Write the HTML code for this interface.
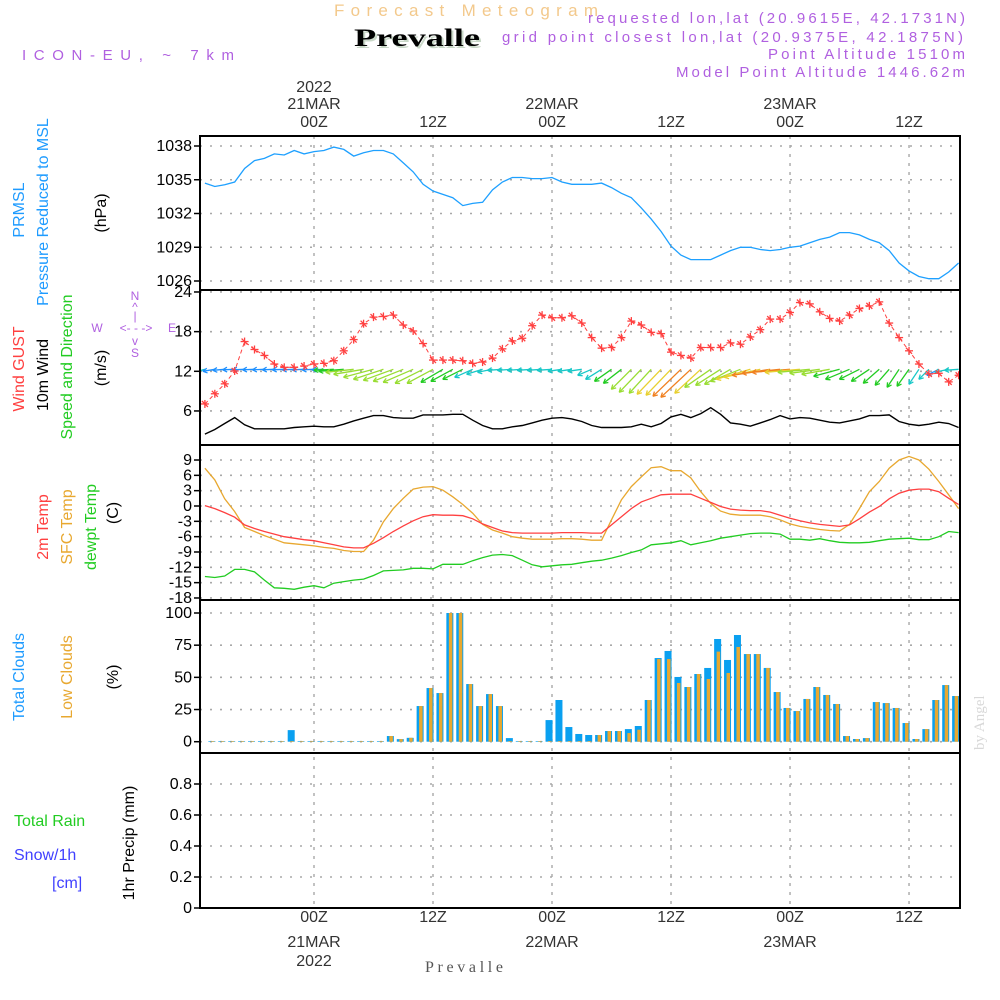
<!DOCTYPE html>
<html><head><meta charset="utf-8"><style>
html,body{margin:0;padding:0;background:#fff;}
svg{display:block;font-family:"Liberation Sans",sans-serif;}
</style></head><body>
<svg id="chart" width="1000" height="1000" viewBox="0 0 1000 1000" xmlns="http://www.w3.org/2000/svg">
<rect width="1000" height="1000" fill="#fff"/>
<g id="header">
<text x="334" y="16" font-size="17" fill="#f3c98c" textLength="264" lengthAdjust="spacing">Forecast Meteogram</text>
<text x="356" y="48" font-size="25" font-weight="bold" font-family="Liberation Serif, serif" fill="#c9d8c8" textLength="126" lengthAdjust="spacingAndGlyphs">Prevalle</text>
<text x="354" y="46" font-size="25" font-weight="bold" font-family="Liberation Serif, serif" fill="#000" textLength="126" lengthAdjust="spacingAndGlyphs">Prevalle</text>
<text x="22" y="60" font-size="15" fill="#b060e0" textLength="212" lengthAdjust="spacing">ICON-EU, ~ 7km</text>
<text x="588" y="23" font-size="15" fill="#b060e0" textLength="377" lengthAdjust="spacing">requested lon,lat (20.9615E, 42.1731N)</text>
<text x="502" y="42" font-size="15" fill="#b060e0" textLength="461" lengthAdjust="spacing">grid point closest lon,lat (20.9375E, 42.1875N)</text>
<text x="768" y="59" font-size="15" fill="#b060e0" textLength="197" lengthAdjust="spacing">Point Altitude 1510m</text>
<text x="676" y="77" font-size="15" fill="#b060e0" textLength="289" lengthAdjust="spacing">Model Point Altitude 1446.62m</text>
<text x="425" y="972" font-size="16" font-family="Liberation Serif, serif" fill="#555" textLength="78" lengthAdjust="spacing">Prevalle</text>
<text transform="translate(984,750) rotate(-90)" font-size="15" font-family="Liberation Serif, serif" fill="#d8d8d8">by Angel</text>
</g>
<g id="labels" font-size="16"></g>
<g id="grid"></g>
<g id="marks"></g>
<g id="frames"></g>
</svg>
<script>
// ---- data (hourly, starting 20 MAR 13Z = hour -11 relative to 21MAR 00Z) ----
const startHour = -11;
const pressure = [1034.7,1034.4,1034.55,1034.8,1036.0,1036.7,1036.9,1037.3,1037.2,1037.6,1037.3,1037.5,1037.6,1037.9,1037.7,1037.1,1037.4,1037.6,1037.6,1037.3,1036.5,1035.7,1034.6,1034.0,1033.7,1033.4,1032.7,1032.9,1033.0,1034.1,1034.8,1035.2,1035.2,1035.1,1035.1,1035.2,1034.8,1034.6,1034.6,1034.6,1034.7,1034.3,1033.8,1033.4,1032.5,1031.5,1030.4,1029.1,1028.3,1027.9,1027.9,1027.9,1028.3,1028.7,1029.0,1029.0,1028.8,1028.7,1028.8,1029.0,1029.1,1029.4,1029.7,1029.9,1030.3,1030.3,1030.1,1029.7,1029.4,1028.7,1027.6,1026.9,1026.4,1026.2,1026.2,1026.8,1027.6];
const gust = [7.06,8.6,10.1,12.05,16.5,15.3,14.4,13.1,12.6,12.6,12.8,13.1,13.2,13.6,15.1,16.8,19.2,20.2,20.3,20.5,19.0,18.1,16.2,13.7,13.7,13.7,13.6,13.2,13.4,14.0,15.4,16.6,17.0,18.9,20.5,20.1,20.1,20.4,19.3,17.1,15.5,15.6,17.1,19.6,19.0,17.9,17.7,14.9,14.4,14.0,15.6,15.6,15.6,16.3,16.1,17.2,18.3,19.9,19.9,20.9,22.4,22.2,21.0,20.0,19.6,20.5,21.5,21.9,22.5,19.3,17.1,15.1,13.1,11.6,11.7,10.4,11.4];
const windSpeed = [2.5,3.2,4.1,5.0,3.9,3.3,3.3,3.3,3.3,3.5,3.6,3.7,3.6,3.6,4.0,4.5,4.9,5.3,5.3,5.0,4.9,4.9,5.4,5.4,5.4,5.5,5.5,4.6,3.8,3.3,3.3,3.6,3.8,4.2,4.6,4.9,5.0,4.8,4.4,3.8,3.5,3.5,3.5,3.6,4.0,3.6,4.1,5.1,5.5,5.0,5.6,6.5,5.5,4.2,4.0,3.7,4.2,4.7,5.3,4.8,5.0,4.9,4.6,4.3,4.2,4.5,4.8,5.3,5.3,5.4,4.4,4.0,3.8,4.0,4.3,4.1,3.5];
// wind arrow components (arrow-space units, east +, north +)
const windU = [-2.8,-2.4,-2.4,-2.4,-2.4,-2.4,-2.4,-2.4,-2.4,-2.4,-2.4,-2.4,-2.4,-4.0,-5.0,-5.6,-6.0,-6.0,-6.0,-6.0,-6.0,-6.0,-5.6,-5.2,-4.4,-4.4,-4.0,-3.6,-3.2,-3.0,-3.0,-3.0,-3.0,-3.0,-3.0,-3.0,-2.8,-2.8,-2.8,-2.8,-3.2,-3.4,-3.6,-4.0,-4.4,-4.4,-4.8,-5.0,-5.6,-6.0,-5.2,-5.2,-5.0,-5.2,-6.0,-6.8,-7.2,-7.6,-7.6,-7.6,-7.0,-6.4,-6.0,-5.6,-5.2,-4.8,-4.0,-3.6,-3.2,-2.8,-2.4,-2.4,-2.0,-2.0,-2.4,-2.8,-2.8];
const windV = [-0.8,-0.4,-0.2,-0.1,-0.1,-0.1,-0.1,-0.1,-0.1,-0.1,-0.1,-0.1,-0.1,-0.2,-0.4,-0.6,-1.0,-1.6,-2.0,-2.2,-2.4,-2.6,-2.8,-2.8,-2.6,-2.4,-2.0,-1.6,-1.0,-0.6,-0.2,-0.2,-0.2,-0.2,-0.2,-0.2,-0.4,-0.4,-0.4,-1.2,-2.0,-2.4,-2.8,-4.0,-4.6,-4.8,-5.0,-5.2,-5.4,-5.6,-4.8,-3.6,-3.2,-3.0,-2.4,-2.0,-1.6,-1.2,-0.8,-0.6,-0.6,-0.6,-0.8,-1.0,-1.4,-2.0,-2.0,-2.4,-2.8,-3.2,-3.6,-3.4,-3.0,-2.0,-1.2,-0.6,-0.2];
const temp2m = [0.07,-0.5,-1.3,-2.2,-3.7,-4.4,-5.0,-5.5,-6.0,-6.3,-6.6,-6.8,-7.2,-7.6,-8.0,-8.2,-8.2,-7.3,-6.2,-5.0,-3.9,-2.9,-2.1,-1.7,-1.8,-1.8,-1.9,-2.5,-3.5,-4.2,-4.9,-5.2,-5.3,-5.3,-5.3,-5.3,-5.2,-5.2,-5.2,-5.3,-5.3,-3.7,-2.1,-0.5,0.8,1.5,2.2,2.3,2.3,2.3,1.5,0.7,-0.1,-0.6,-0.8,-0.9,-0.9,-1.2,-1.8,-2.4,-2.9,-3.3,-3.6,-3.8,-4.0,-3.7,-2.5,-1.2,-0.1,1.4,2.5,3.1,3.3,3.3,2.8,1.5,0.3];
const tempSfc = [7.4,5.1,1.4,-1.1,-4.2,-5.0,-5.8,-6.5,-7.2,-7.4,-7.6,-7.8,-8.1,-8.3,-8.7,-8.9,-8.9,-6.7,-3.1,-0.5,1.5,3.3,3.7,3.8,3.1,1.8,0.3,-1.4,-3.6,-4.7,-5.3,-6.0,-6.3,-6.5,-6.5,-6.5,-6.4,-6.4,-6.5,-6.7,-6.7,-2.7,1.2,3.8,5.7,7.5,7.7,6.9,6.9,5.5,2.8,0.5,-1.0,-1.6,-1.8,-1.8,-1.8,-2.1,-2.7,-3.5,-4.0,-4.3,-4.6,-4.8,-4.9,-3.6,-0.5,2.8,4.8,7.4,9.0,9.7,9.0,7.2,4.8,2.2,-0.5];
const dewpoint = [-13.8,-14.0,-13.7,-12.4,-12.4,-12.9,-14.5,-16.0,-16.1,-16.3,-15.9,-15.6,-16.0,-15.1,-14.8,-14.5,-14.3,-13.6,-12.7,-12.6,-12.5,-12.2,-12.2,-12.3,-11.4,-11.4,-11.4,-10.7,-10.1,-9.6,-9.5,-9.7,-10.6,-11.5,-11.9,-11.7,-11.5,-11.4,-11.1,-10.8,-10.6,-10.2,-9.7,-9.1,-8.6,-7.6,-7.4,-7.2,-6.8,-7.6,-7.2,-6.8,-6.3,-6.0,-5.7,-5.4,-5.3,-5.3,-5.5,-6.5,-6.5,-6.7,-6.4,-6.8,-7.1,-7.2,-7.2,-7.1,-6.8,-6.5,-6.4,-6.3,-6.6,-6.6,-6.0,-5.0,-5.2];
const cloudTotal = [0.5,0.5,0.5,0.5,0.5,0.5,0.5,0.5,9,0.5,0.5,0.5,0.5,0.5,0.5,0.5,0.5,0.5,4.4,2,3,27.7,41.7,37.8,100,100,44.8,27.7,37,27.7,2.8,0.5,0.5,0.5,16.8,32.4,11.4,6,5.2,5.2,8.3,8.3,9.8,12.2,32.4,65,70.5,50.3,42.5,52.6,57.3,79.8,63.5,82.9,68.1,68.1,57.3,38.6,26.2,23.8,33.2,42.5,36.3,29.3,4.4,2.1,2.8,30.8,30,26.2,14.5,2.1,9.8,32.4,44,35.5];
const cloudLow = [0.5,0.5,0.5,0.5,0.5,0.5,0.5,0.5,0.5,0.5,0.5,0.5,0.5,0.5,0.5,0.5,0.5,0.5,4.4,2,3,27.7,41.7,37.8,100,100,44.8,27.7,37,27.7,0.5,0.5,0.5,0.5,0.5,0.5,0.5,0.5,0.5,5.2,8.3,8.3,6.7,9.3,32.4,64.2,64.2,45.6,42.5,52.6,48.7,70,53.4,73.6,68.1,68.1,57.3,38.6,26.2,23.8,33.2,42.5,36.3,29.3,4.4,2.1,2.8,30.8,30,26.2,14.5,2.1,9.8,32.4,44,35.5];
const precip = [0,0,0,0,0,0,0,0,0,0,0,0,0,0,0,0,0,0,0,0,0,0,0,0,0,0,0,0,0,0,0,0,0,0,0,0,0,0,0,0,0,0,0,0,0,0,0,0,0,0,0,0,0,0,0,0,0,0,0,0,0,0,0,0,0,0,0,0,0,0,0,0,0,0,0,0,0];
const pressureTicks = [1038,1035,1032,1029,1026];
const windTicks = [24,18,12,6];
const tempTicks = [9,6,3,0,-3,-6,-9,-12,-15,-18];
const cloudTicks = [100,75,50,25,0];
const precipTicks = [0.8,0.6,0.4,0.2,0];
const timeTicks = [0,12,24,36,48,60];
const timeLabels = ["00Z","12Z","00Z","12Z","00Z","12Z"];
const dayLabels = ["21MAR","","22MAR","","23MAR",""];

// ---- scales ----
const X0=200, X1=960;
const xH = h => 314 + h*9.917;
const xi = i => xH(startHour + i);
const yP = v => 146 + (1038 - v)*11.25;
const yW = v => 371.3 - (v - 12)*6.61;
const yT = v => 506 - v*5.11;
const yC = v => 741.7 - v*1.287;
const yR = v => 908 - v*155;
const panels = [[136,290],[290,445],[445,600],[600,753],[753,908]];

const NS='http://www.w3.org/2000/svg';
function mk(tag, attrs, parent){const e=document.createElementNS(NS,tag);for(const k in attrs)e.setAttribute(k,attrs[k]);parent.appendChild(e);return e;}
const gGrid=document.getElementById('grid'), gMarks=document.getElementById('marks'), gFr=document.getElementById('frames'), gLab=document.getElementById('labels');

const defs=mk('defs',{},document.getElementById('chart'));
const cp=mk('clipPath',{id:'plotclip'},defs);
mk('rect',{x:X0,y:136,width:X1-X0,height:772},cp);
gMarks.setAttribute('clip-path','url(#plotclip)');

function hGrid(ticks, yf, fmt, name){
  ticks.forEach(t=>{
    const y=yf(t);
    const l=mk('line',{x1:X0,x2:X1,y1:y,y2:y,stroke:'#a8a8a8','stroke-width':1.6,'stroke-dasharray':'2 8'},gGrid);
    
    
    const tk=mk('line',{x1:X0-6,x2:X0,y1:y,y2:y,stroke:'#000','stroke-width':1.5},gFr);
    
    
    const tx=mk('text',{x:X0-8,y:y+5,'text-anchor':'end','font-size':16,fill:'#000'},gFr);
    tx.textContent=fmt(t);
    
    
  });
}
hGrid(pressureTicks,yP,t=>String(t),'pressure');
hGrid(windTicks,yW,t=>String(t),'wind');
hGrid(tempTicks,yT,t=>String(t),'temp');
hGrid(cloudTicks,yC,t=>String(t),'cloud');
hGrid(precipTicks,yR,t=>t===0?'0':t.toFixed(1),'precip');
timeTicks.forEach((h,k)=>{
  const x=xH(h);
  const l=mk('line',{x1:x,x2:x,y1:136,y2:908,stroke:'#a8a8a8','stroke-width':1.4,'stroke-dasharray':'3 6'},gGrid);
  
  
  const t1=mk('text',{x:x,y:127,'text-anchor':'middle','font-size':16,fill:'#333'},gLab);
  t1.textContent=timeLabels[k];
  
  
  const t2=mk('text',{x:x,y:922,'text-anchor':'middle','font-size':16,fill:'#333'},gLab);
  t2.textContent=timeLabels[k];
  
  
  if(dayLabels[k]){
    const d1=mk('text',{x:x,y:109,'text-anchor':'middle','font-size':16,fill:'#333'},gLab);
    d1.textContent=dayLabels[k];
    
    
    const d2=mk('text',{x:x,y:947,'text-anchor':'middle','font-size':16,fill:'#333'},gLab);
    d2.textContent=dayLabels[k];
    
    
  }
});
const yr1=mk('text',{x:xH(0),y:92,'text-anchor':'middle','font-size':16,fill:'#333'},gLab);
yr1.textContent='2022';


const yr2=mk('text',{x:xH(0),y:966,'text-anchor':'middle','font-size':16,fill:'#333'},gLab);
yr2.textContent='2022';



panels.forEach(p=>{
  const r=mk('rect',{x:X0,y:p[0],width:X1-X0,height:p[1]-p[0],fill:'none',stroke:'#000','stroke-width':2},gFr);
  
  
});

function vlabel(cx, cy, txt, color, name, size){
  const t=mk('text',{transform:`translate(${cx+6},${cy}) rotate(-90)`,'text-anchor':'middle','font-size':size||16,fill:color},gLab);
  t.textContent=txt;
  
  
}
vlabel(18,210,'PRMSL','#1e9bff','prmsl-title');
vlabel(42,212,'Pressure Reduced to MSL','#1e9bff','pressure-title');
vlabel(100,213,'(hPa)','#000','pressure-unit');
vlabel(18,369,'Wind GUST','#ff4040','gust-title');
vlabel(42,375,'10m Wind','#000','wind-title');
vlabel(66,367,'Speed and Direction','#22cc22','wind-dir-title');
vlabel(100,368,'(m/s)','#000','wind-unit');
vlabel(42,527,'2m Temp','#ff4040','temp2m-title');
vlabel(66,527,'SFC Temp','#e8a830','sfc-temp-title');
vlabel(90,527,'dewpt Temp','#22cc22','dewpt-title');
vlabel(112,513,'(C)','#000','temp-unit');
vlabel(18,677,'Total Clouds','#1e9bff','total-clouds-title');
vlabel(66,677,'Low Clouds','#e8a830','low-clouds-title');
vlabel(112,677,'(%)','#000','cloud-unit');
vlabel(128,843,'1hr Precip (mm)','#000','precip-title');
[['Total  Rain',14,826,'#22cc22','rain-legend'],['Snow/1h',14,860,'#4040ff','snow-legend'],['[cm]',52,888,'#4040ff','snow-unit']].forEach(a=>{
  const t=mk('text',{x:a[1],y:a[2],'font-size':16,fill:a[3],'xml:space':'preserve'},gLab);
  t.textContent=a[0];
  
  
});
[['N',135,300],['^',135,311],['|',135,320],['W',97,332],['<- - ->',136,332],['E',172,332],['v',135,345],['S',135,357]].forEach(a=>{
  const t=mk('text',{x:a[1],y:a[2],'text-anchor':'middle','font-size':12,fill:'#b060e0'},gLab);
  t.textContent=a[0];
  
  
});

function series(arr, yf, color, name, w, dash){
  const d=arr.map((v,i)=>(i?'L':'M')+xi(i).toFixed(1)+' '+yf(v).toFixed(1)).join(' ');
  const p=mk('path',{d:d,fill:'none',stroke:color,'stroke-width':w||1.3},gMarks);
  if(dash)p.setAttribute('stroke-dasharray',dash);
  
  
}
series(pressure,yP,'#1ea0ff','pressure-line');
cloudTotal.forEach((v,i)=>{
  const c=xH(startHour+i+0.7);
  const b=mk('rect',{x:c-3.5,y:yC(v),width:7,height:yC(0)-yC(v),fill:'#0aa0f0'},gMarks);
  
  
  const lv=cloudLow[i];
  const o=mk('rect',{x:c-1,y:yC(lv),width:3.5,height:yC(0)-yC(lv),fill:'#e8a830'},gMarks);
  
  
});
series(tempSfc,yT,'#e8a830','sfc-temp-line');
series(temp2m,yT,'#ff4040','temp2m-line');
series(dewpoint,yT,'#22cc22','dewpoint-line');
series(precip,yR,'#000','precip-line',1.5,'6 3');
series(windSpeed,yW,'#000','wind-speed-line',1.4);
function arrowColor(len){
  if(len<14)return '#1e90ff';
  if(len<20)return '#18c8c8';
  if(len<27)return '#22cc22';
  if(len<33)return '#99dd33';
  if(len<38)return '#e8d030';
  return '#f08020';
}
windU.forEach((u,i)=>{
  const x=xi(i), y=yW(12)-2;
  const dx=u*5, dy=-windV[i]*5;
  const len=Math.hypot(dx,dy);
  const col=arrowColor(len);
  const g=mk('g',{stroke:col,'stroke-width':1.3,fill:'none'},gMarks);
  
  
  const hx=x+dx, hy=y+dy, a=Math.atan2(dy,dx);
  mk('line',{x1:x,y1:y,x2:hx,y2:hy},g);
  [0.5,-0.5].forEach(s=>{
    mk('line',{x1:hx,y1:hy,x2:hx-5*Math.cos(a+s),y2:hy-5*Math.sin(a+s)},g);
  });
});
series(gust,yW,'#ff4040','gust-line',1,'4 3');
gust.forEach((v,i)=>{
  const x=xi(i), y=yW(v);
  const g=mk('g',{stroke:'#ff4040','stroke-width':1.3},gMarks);
  
  
  mk('line',{x1:x-4,x2:x+4,y1:y,y2:y},g);
  mk('line',{x1:x,x2:x,y1:y-4,y2:y+4},g);
  mk('line',{x1:x-3,x2:x+3,y1:y-3,y2:y+3},g);
});
</script>
</body></html>
